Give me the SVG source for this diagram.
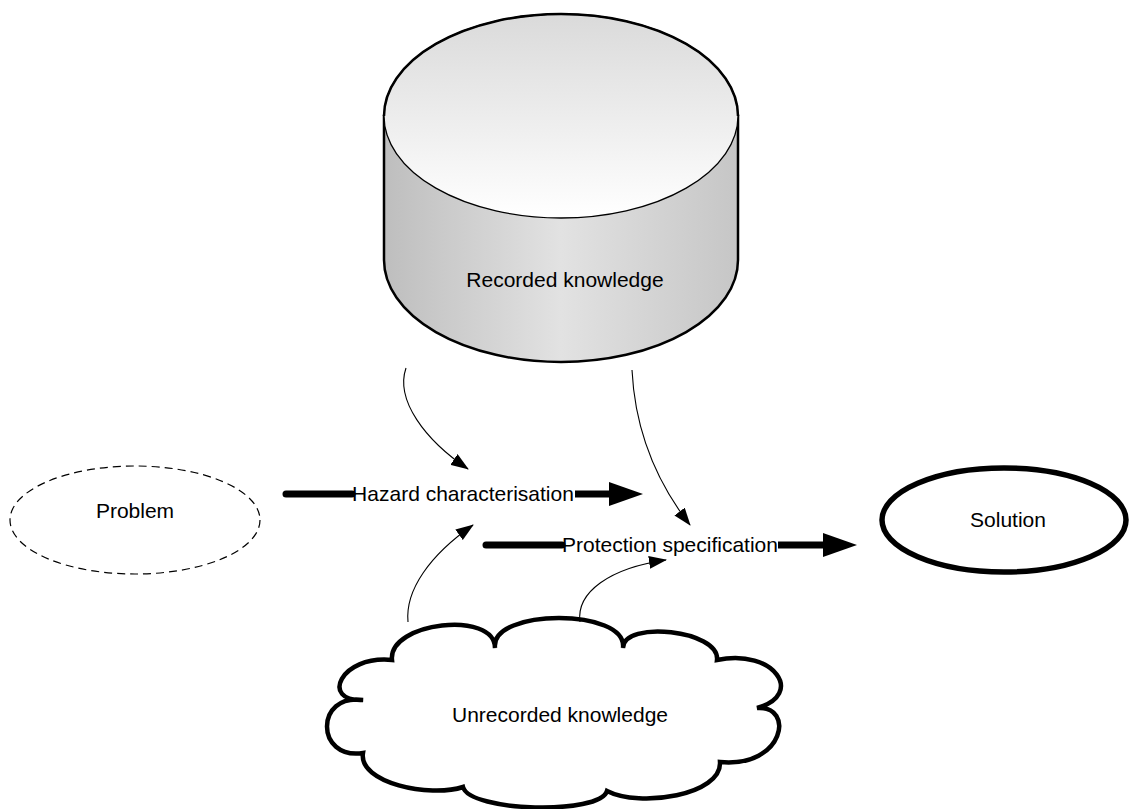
<svg xmlns="http://www.w3.org/2000/svg" width="1129" height="809" viewBox="0 0 1129 809">
<defs>
<linearGradient id="gTop" x1="0" y1="0" x2="0" y2="1">
<stop offset="0" stop-color="#dadada"/>
<stop offset="1" stop-color="#ffffff"/>
</linearGradient>
<linearGradient id="gSide" x1="0" y1="0" x2="1" y2="0">
<stop offset="0" stop-color="#bebebe"/>
<stop offset="0.5" stop-color="#e2e2e2"/>
<stop offset="1" stop-color="#c6c6c6"/>
</linearGradient>
<marker id="thin" markerWidth="18" markerHeight="13" refX="17" refY="6.5" orient="auto" markerUnits="userSpaceOnUse">
<path d="M0,0 L18,6.5 L0,13 Z" fill="#000"/>
</marker>
</defs>
<style>
text{font-family:"Liberation Sans",Arial,sans-serif;font-size:21px;fill:#000;text-anchor:middle}
.thin{fill:none;stroke:#000;stroke-width:1.1}
.thick{fill:none;stroke:#000;stroke-width:7;stroke-linecap:round}
.head{fill:#000}
</style>
<rect width="1129" height="809" fill="#fff"/>
<g id="recorded">
<path d="M384,116 L384,260 A177,102 0 0 0 738,260 L738,116 Z" fill="url(#gSide)" stroke="#000" stroke-width="2.5"/>
<ellipse cx="561" cy="116" rx="177" ry="102" fill="url(#gTop)" stroke="#000" stroke-width="1.3"/>
<path d="M384,116 A177,102 0 0 1 738,116" fill="none" stroke="#000" stroke-width="2.5"/>
<text x="565" y="287">Recorded knowledge</text>
</g>
<g id="problem">
<ellipse cx="135" cy="520" rx="125" ry="54" fill="none" stroke="#000" stroke-width="1.2" stroke-dasharray="8,5"/>
<text x="135" y="518">Problem</text>
</g>
<g id="solution">
<ellipse cx="1004" cy="520" rx="122" ry="52" fill="none" stroke="#000" stroke-width="5.5"/>
<text x="1008" y="527">Solution</text>
</g>
<g id="unrecorded">
<path d="M392,660 C388,622 495,610 495,648 C490,608 628,608 623,648 C623,620 720,630 717,660 C775,648 805,695 757,708 C795,705 785,768 720,762 C722,795 640,808 607,791 C600,815 470,812 463,787 C430,798 358,783 363,753 C315,760 315,693 363,700 C320,702 340,655 392,660 Z" fill="#fff" stroke="#000" stroke-width="4.5" stroke-linejoin="miter"/>
<text x="560" y="722">Unrecorded knowledge</text>
</g>
<g id="connectors">
<line class="thick" x1="286" y1="494" x2="352" y2="494"/>
<line x1="575" y1="494" x2="611" y2="494" stroke="#000" stroke-width="7"/>
<path class="head" d="M609,482 L643,494 L609,506 Z"/>
<text x="463" y="501">Hazard characterisation</text>
<line class="thick" x1="486" y1="545" x2="562" y2="545"/>
<line x1="778" y1="545" x2="825" y2="545" stroke="#000" stroke-width="7"/>
<path class="head" d="M823,533 L857,545 L823,557 Z"/>
<text x="670" y="552">Protection specification</text>
<path class="thin" d="M406,368 C395,400 425,440 468,469" marker-end="url(#thin)"/>
<path class="thin" d="M632,370 C635,430 655,480 690,525" marker-end="url(#thin)"/>
<path class="thin" d="M408,622 C405,590 430,555 473,525" marker-end="url(#thin)"/>
<path class="thin" d="M580,622 C576,592 610,568 666,560" marker-end="url(#thin)"/>
</g>
</svg>
